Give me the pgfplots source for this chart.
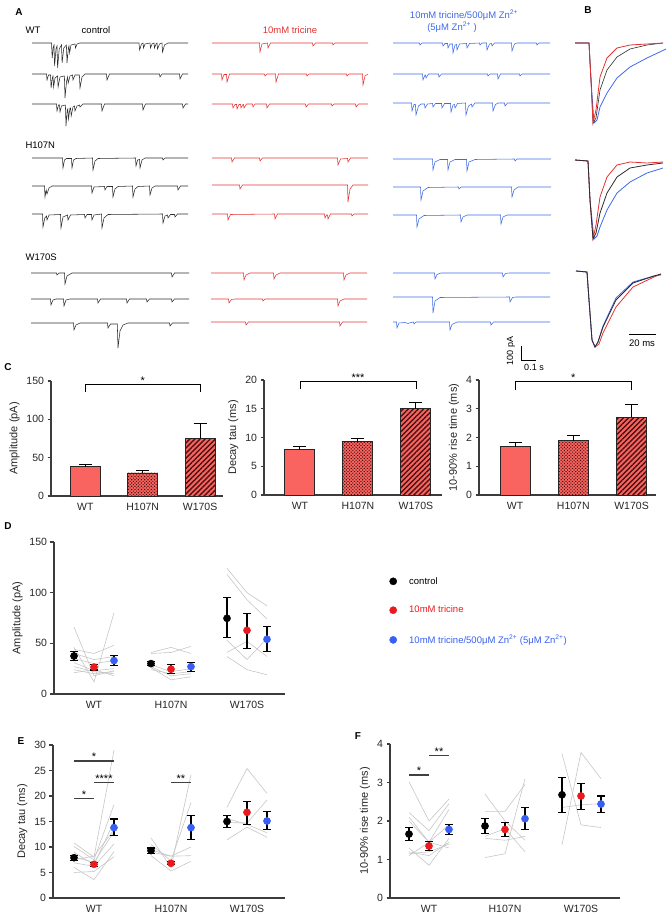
\documentclass[border=0pt]{standalone}
\usepackage{fontspec}
\setmainfont{Liberation Sans}
\usepackage{pgfplots}
\pgfplotsset{compat=1.18}
\usetikzlibrary{patterns,patterns.meta}
\definecolor{barred}{RGB}{250,100,96}
\definecolor{hatch}{RGB}{75,18,18}
\definecolor{tblk}{RGB}{45,45,45}
\definecolor{tred}{RGB}{228,50,50}
\definecolor{tblue}{RGB}{62,105,232}
\definecolor{pred}{RGB}{235,25,30}
\definecolor{pblue}{RGB}{55,95,245}
\definecolor{gline}{RGB}{198,198,198}
\definecolor{axc}{RGB}{60,60,60}
\pgfplotsset{
 prism/.style={scale only axis, axis lines=left, axis line style={-, line width=1.3pt, axc},
   tick style={axc, line width=1.1pt}, tick align=outside, major tick length=3.5pt,
   major x tick style={draw=none}, clip=false,
   tick label style={font=\fontsize{10.5}{12}\selectfont, text=black!85},
   label style={font=\fontsize{11}{13}\selectfont, text=black!85},
   /pgf/number format/assume math mode=true},
 pt/.style={only marks, mark=*, mark size=3.6pt,
   legend image code/.code={\path[draw=none,fill=none,pattern=none] (0pt,-3pt) rectangle (22pt,3pt); \draw[mark repeat=2,mark phase=2,##1] plot coordinates {(0pt,0pt)(8pt,0pt)(22pt,0pt)};},
   error bars/y dir=both, error bars/y explicit,
   error bars/error bar style={black, line width=1.1pt},
   error bars/error mark options={black, line width=1.1pt, mark size=3.8pt, rotate=90}},
 gl/.style={gline, line width=0.6pt, forget plot},
 cbar/.style={ybar, bar width=30pt, bar shift=0pt, fill=barred, draw=black!85, line width=0.9pt,
   error bars/y dir=plus, error bars/y explicit,
   error bars/error bar style={black, line width=1pt},
   error bars/error mark options={black, line width=1pt, mark size=6.5pt, rotate=90}},
 dotsbar/.style={postaction={pattern={Dots[radius=0.8pt,distance=2.3pt,angle=45]}, pattern color=hatch}},
 linesbar/.style={postaction={pattern={Lines[angle=45,distance=3.6pt,line width=1.4pt]}, pattern color=hatch}},
 tr/.style={line width=0.55pt},
}
\begin{document}
\begin{tikzpicture}
\useasboundingbox (0pt,0pt) rectangle (666pt,914pt);
% ================= A and B: traces =================
\begin{axis}[at={(0pt,914pt)}, anchor=north west, scale only axis, width=666pt, height=380pt,
  xmin=0, xmax=666, ymin=0, ymax=380, y dir=reverse, hide axis, clip=false]
\node[font=\bfseries\fontsize{10}{12}\selectfont] at (axis cs:19,12) {A};
\node[font=\bfseries\fontsize{10}{12}\selectfont] at (axis cs:588,10) {B};
\node[font=\fontsize{9.5}{11}\selectfont, anchor=west] at (axis cs:22,30) {WT};
\node[font=\fontsize{9.5}{11}\selectfont] at (axis cs:96,30) {control};
\node[font=\fontsize{9.5}{11}\selectfont, text=tred] at (axis cs:290,30) {10mM tricine};
\node[font=\fontsize{9.5}{11}\selectfont, text=tblue] at (axis cs:464,15) {10mM tricine/500μM Zn\textsuperscript{2+}};
\node[font=\fontsize{9.5}{11}\selectfont, text=tblue] at (axis cs:452,27) {(5μM Zn\textsuperscript{2+} )};
\node[font=\fontsize{9.5}{11}\selectfont, anchor=west] at (axis cs:22,145) {H107N};
\node[font=\fontsize{9.5}{11}\selectfont, anchor=west] at (axis cs:22,257) {W170S};
% --- WT control
\addplot[tr, tblk] table[row sep=\\, y expr=\thisrow{d}+43] {x d\\ 32 0\\ 51.5 0\\ 52.2 15\\ 53.3 4\\ 54 2\\ 54.6 23\\ 56 6\\ 57 3\\ 57.6 25\\ 59.2 6\\ 61.5 2\\ 62.1 20\\ 63.8 5\\ 66.4 2\\ 67 20\\ 68.4 5\\ 69 3\\ 69.6 10\\ 71 2\\ 75 1\\ 75.5 5\\ 77 1\\ 80 0\\ 139 0\\ 139.6 7\\ 141.5 1\\ 143 0\\ 143.5 5\\ 145 1\\ 150 0\\ 150.5 5\\ 152 1\\ 154 0\\ 154.5 5\\ 156 1\\ 157 0\\ 157.5 6\\ 159.5 1\\ 162 0\\ 162.5 9\\ 164.5 2\\ 168 0\\ 188 0\\};
\addplot[tr, tblk] table[row sep=\\, y expr=\thisrow{d}+74] {x d\\ 32 0\\ 46.5 0\\ 47 6\\ 48.5 1\\ 50.5 1\\ 51.1 14\\ 52.3 4\\ 53 2\\ 53.6 13\\ 55 4\\ 57.5 2\\ 58.1 13\\ 60 3\\ 64.4 2\\ 65 24\\ 66.6 7\\ 67.6 3\\ 68.2 9\\ 70 2\\ 72.5 1\\ 73 6\\ 75 1\\ 79.4 1\\ 80 14\\ 82 3\\ 85 0\\ 106.5 0\\ 107 6\\ 109.5 0\\ 159.5 0\\ 160 3\\ 162 0\\ 179.5 0\\ 180 5\\ 182.5 0\\ 188 0\\};
\addplot[tr, tblk] table[row sep=\\, y expr=\thisrow{d}+104] {x d\\ 32 0\\ 56.5 0\\ 57 7\\ 58.5 1\\ 59.5 1\\ 60 8\\ 61.5 2\\ 65.4 1\\ 66 22\\ 67.2 6\\ 67.8 5\\ 68.4 15\\ 70 4\\ 70.6 4\\ 71.2 12\\ 73 3\\ 74.5 2\\ 75 7\\ 77 2\\ 79.5 1\\ 80 3\\ 83 0\\ 101.5 0\\ 102 7\\ 104.5 0\\ 142.5 0\\ 143 6\\ 145.5 0\\ 182.5 0\\ 183 4\\ 185.5 0\\ 188 0\\};
% --- WT tricine
\addplot[tr, tred] table[row sep=\\, y expr=\thisrow{d}+43] {x d\\ 212 0\\ 259.5 0\\ 260 9\\ 262 1\\ 267.5 0\\ 268 5\\ 270.5 0\\ 312.5 0\\ 313 3\\ 315.5 0\\ 332.5 0\\ 333 2\\ 335 0\\ 368 0\\};
\addplot[tr, tred] table[row sep=\\, y expr=\thisrow{d}+74] {x d\\ 212 0\\ 221.5 0\\ 222 6\\ 224 0.5\\ 226.5 0.5\\ 227 8\\ 229.5 0\\ 264.5 0\\ 265 2\\ 267 0\\ 275.5 0\\ 276 8\\ 278.5 0\\ 306.5 0\\ 307 2\\ 309 0\\ 346.5 0\\ 347 2\\ 349 0\\ 362.5 0\\ 363 11\\ 365 2\\ 368 0\\};
\addplot[tr, tred] table[row sep=\\, y expr=\thisrow{d}+104] {x d\\ 212 0\\ 232.5 0\\ 233 4\\ 235 0.5\\ 236.5 0.5\\ 237 5\\ 239 0.5\\ 240.5 0.5\\ 241 4\\ 243 0.5\\ 243.5 0.5\\ 244 4\\ 246.5 0\\ 252.5 0\\ 253 3\\ 255 0\\ 266.5 0\\ 267 4\\ 269.5 0\\ 305.5 0\\ 306 3\\ 308.5 0\\ 331.5 0\\ 332 2\\ 334 0\\ 355.5 0\\ 356 3\\ 358.5 0\\ 368 0\\};
% --- WT zinc
\addplot[tr, tblue] table[row sep=\\, y expr=\thisrow{d}+43] {x d\\ 393 0\\ 419.5 0\\ 420 2\\ 422 0\\ 442.5 0\\ 443 3\\ 445 0.5\\ 447.5 0.5\\ 448 5\\ 450 1\\ 452.5 1\\ 453 10\\ 455 2\\ 456.5 1.5\\ 457 7\\ 459.5 1\\ 466.5 0.5\\ 467 5\\ 469.5 0.5\\ 479.5 0\\ 480 2\\ 482 0\\ 486.5 0\\ 487 7\\ 489.5 1\\ 491.5 0.5\\ 492 3\\ 494.5 0\\ 511.5 0\\ 512 8\\ 514.5 1\\ 517 0\\ 536.5 0\\ 537 2\\ 539 0\\ 550 0\\};
\addplot[tr, tblue] table[row sep=\\, y expr=\thisrow{d}+74] {x d\\ 393 0\\ 422.5 0\\ 423 6\\ 425 1\\ 425.5 1\\ 426 4\\ 428.5 0\\ 438.5 0\\ 439 3\\ 441.5 0\\ 487.5 0\\ 488 2\\ 490 0\\ 497.5 0\\ 498 5\\ 500.5 0\\ 519.5 0\\ 520 2\\ 522 0\\ 550 0\\};
\addplot[tr, tblue] table[row sep=\\, y expr=\thisrow{d}+103] {x d\\ 393 0\\ 411.5 0\\ 412 8\\ 414 1.5\\ 415.4 1.5\\ 416 12\\ 418.5 3\\ 421 1\\ 424.5 1\\ 425 5\\ 427.5 1\\ 432.5 0.5\\ 433 4\\ 435.5 0.5\\ 441.5 0.5\\ 442 5\\ 444.5 0.5\\ 450.5 0.5\\ 451 9\\ 453 2\\ 454.5 1.5\\ 455 5\\ 457.5 0.5\\ 465.5 0\\ 466 12\\ 468.5 3\\ 471.5 1\\ 472 4\\ 475 0\\ 492.5 0\\ 493 8\\ 495.5 1.5\\ 498 0\\ 504.5 0\\ 505 3\\ 507.5 0\\ 550 0\\};
% --- H107N control
\addplot[tr, tblk] table[row sep=\\, y expr=\thisrow{d}+158] {x d\\ 32 0\\ 62.5 0\\ 63 10\\ 64.5 2\\ 66.5 0.5\\ 71.5 0.5\\ 72 10\\ 73.5 2\\ 76 0.5\\ 92.5 0\\ 93 12\\ 95 3\\ 98 0.5\\ 135.5 0\\ 136 8\\ 137.6 2\\ 139.5 1.5\\ 140 10\\ 142 2\\ 145 0\\ 162.5 0\\ 163 2\\ 165 0\\ 188 0\\};
\addplot[tr, tblk] table[row sep=\\, y expr=\thisrow{d}+186] {x d\\ 32 0\\ 44.5 0\\ 45 11\\ 46.2 4\\ 47 8\\ 49 2\\ 52 0\\ 91.5 0\\ 92 7\\ 94 1\\ 104.5 0.5\\ 105 4\\ 107 0.5\\ 112.5 0.5\\ 113 11\\ 115 3\\ 118 0.5\\ 132.5 0\\ 133 11\\ 135 3\\ 138 0.5\\ 149.5 0\\ 150 9\\ 152 2\\ 155 0\\ 177.5 0\\ 178 4\\ 180.5 0\\ 188 0\\};
\addplot[tr, tblk] table[row sep=\\, y expr=\thisrow{d}+214] {x d\\ 32 0\\ 42.5 0\\ 43 13\\ 44.8 4\\ 46.5 2\\ 47 6\\ 49 1\\ 60.5 0.5\\ 61 14\\ 63 3\\ 67.5 1\\ 68 6\\ 70.5 1\\ 84.5 0.5\\ 85 4\\ 87 0.5\\ 91.5 0.5\\ 92 6\\ 94 1\\ 101.5 0\\ 102 14\\ 104 4\\ 108 0.5\\ 162.5 0\\ 163 9\\ 165 2\\ 167.5 1\\ 168 4\\ 170.5 0.5\\ 174.5 0.5\\ 175 3\\ 177.5 0\\ 188 0\\};
% --- H107N tricine
\addplot[tr, tred] table[row sep=\\, y expr=\thisrow{d}+158] {x d\\ 212 0\\ 231.5 0\\ 232 4\\ 234.5 0\\ 259.5 0\\ 260 3\\ 262.5 0\\ 337.5 0\\ 338 7\\ 340.5 1\\ 347.5 0.5\\ 348 4\\ 350.5 0\\ 368 0\\};
\addplot[tr, tred] table[row sep=\\, y expr=\thisrow{d}+185] {x d\\ 212 0\\ 239.5 0\\ 240 4\\ 242.5 0\\ 347.5 0\\ 348 17\\ 350 4\\ 353 0\\ 368 0\\};
\addplot[tr, tred] table[row sep=\\, y expr=\thisrow{d}+214] {x d\\ 212 0\\ 227.5 0\\ 228 6\\ 230.5 0.5\\ 274.5 0\\ 275 5\\ 277.5 0\\ 324.5 0\\ 325 4\\ 326.5 1\\ 327.5 1\\ 328 5\\ 330.5 0\\ 351.5 0\\ 352 2\\ 354 0\\ 368 0\\};
% --- H107N zinc
\addplot[tr, tblue] table[row sep=\\, y expr=\thisrow{d}+159] {x d\\ 393 0\\ 432.5 0\\ 433 11\\ 435 3\\ 440 0.5\\ 447.5 0.5\\ 448 11\\ 450 3\\ 455 0.5\\ 466.5 0.5\\ 467 12\\ 469 3\\ 475 0.5\\ 514.5 0\\ 515 2\\ 517 0\\ 551 0\\};
\addplot[tr, tblue] table[row sep=\\, y expr=\thisrow{d}+187] {x d\\ 393 0\\ 420.5 0\\ 421 13\\ 423 4\\ 428 0.5\\ 458.5 0\\ 459 2\\ 461 0\\ 511.5 0\\ 512 10\\ 514 3\\ 518 0\\ 551 0\\};
\addplot[tr, tblue] table[row sep=\\, y expr=\thisrow{d}+215] {x d\\ 393 0\\ 416.5 0\\ 417 12\\ 419 4\\ 424 0.5\\ 460.5 0\\ 461 7\\ 463 2\\ 467 0\\ 500.5 0\\ 501 9\\ 503 2\\ 507 0\\ 551 0\\};
% --- W170S control
\addplot[tr, tblk] table[row sep=\\, y expr=\thisrow{d}+273] {x d\\ 31 0\\ 56.5 0\\ 57 2\\ 59 0\\ 64.5 0\\ 65 11\\ 67 3\\ 72 0\\ 171.5 0\\ 172 4\\ 174.5 0\\ 189 0\\};
\addplot[tr, tblk] table[row sep=\\, y expr=\thisrow{d}+299] {x d\\ 31 0\\ 50.5 0\\ 51 6\\ 53 1\\ 56 0\\ 63.5 0\\ 64 7\\ 66 1\\ 70 0\\ 97.5 0\\ 98 4\\ 100.5 0\\ 126.5 0\\ 127 4\\ 129.5 0\\ 146.5 0\\ 147 3\\ 149.5 0\\ 171.5 0\\ 172 3\\ 174.5 0\\ 189 0\\};
\addplot[tr, tblk] table[row sep=\\, y expr=\thisrow{d}+323] {x d\\ 31 0\\ 73.5 0\\ 74 7\\ 76 2\\ 80 0\\ 107.5 0\\ 108 5\\ 110.5 1\\ 117.3 1\\ 118 25\\ 120 8\\ 123 2\\ 128 0\\ 169.5 0\\ 170 3\\ 172.5 0\\ 189 0\\};
% --- W170S tricine
\addplot[tr, tred] table[row sep=\\, y expr=\thisrow{d}+273] {x d\\ 211 0\\ 243.5 0\\ 244 7\\ 246 2\\ 250 0\\ 273.5 0\\ 274 6\\ 276 2\\ 280 0\\ 343.5 0\\ 344 7\\ 346 2\\ 350 0\\ 367 0\\};
\addplot[tr, tred] table[row sep=\\, y expr=\thisrow{d}+299] {x d\\ 211 0\\ 228.5 0\\ 229 4\\ 231.5 0.5\\ 235 0\\ 262.5 0\\ 263 2\\ 265 0\\ 337.5 0\\ 338 7\\ 340 2\\ 344 0\\ 367 0\\};
\addplot[tr, tred] table[row sep=\\, y expr=\thisrow{d}+322] {x d\\ 211 0\\ 245.5 0\\ 246 3\\ 248.5 0\\ 339.5 0\\ 340 4\\ 342.5 0\\ 367 0\\};
% --- W170S zinc
\addplot[tr, tblue] table[row sep=\\, y expr=\thisrow{d}+273] {x d\\ 393 0\\ 434.5 0\\ 435 6\\ 437 1.5\\ 441 0\\ 502.5 0\\ 503 4\\ 505.5 0.5\\ 509 0\\ 550 0\\};
\addplot[tr, tblue] table[row sep=\\, y expr=\thisrow{d}+297] {x d\\ 393 0\\ 432.5 0\\ 433 16\\ 435 4\\ 440 0.5\\ 509.5 0\\ 510 5\\ 512.5 0.5\\ 516 0\\ 550 0\\};
\addplot[tr, tblue] table[row sep=\\, y expr=\thisrow{d}+322] {x d\\ 393 0\\ 396.5 0\\ 397 6\\ 399 1\\ 405 0.5\\ 408 1.5\\ 411 0.5\\ 413.5 0\\ 414 2\\ 416 0\\ 449.5 0\\ 450 8\\ 452 2.5\\ 457 0\\ 490.5 0\\ 491 3\\ 493.5 0\\ 550 0\\};
% --- B averaged traces
\addplot[tblue, line width=0.8pt] coordinates {(575,43)(589,43)(591,80)(594,123)(597,120)(600,107)(607,93)(617,78)(630,67)(647,58)(666,49)};
\addplot[tblk, line width=0.6pt] coordinates {(575,43)(589,43)(591,80)(593,123)(596,118)(600,90)(607,70)(617,57)(630,49)(647,45)(663,43)};
\addplot[tred, line width=0.8pt] coordinates {(575,43)(589,43)(591,80)(593,123)(596,110)(600,77)(607,58)(617,48)(630,45)(647,44)(663,43)};
\addplot[tblue, line width=0.8pt] coordinates {(575,160)(588,161)(590,200)(594,239)(597,236)(600,227)(607,210)(617,193)(630,182)(647,173)(663,168)};
\addplot[tred, line width=0.8pt] coordinates {(575,160)(588,161)(590,200)(593,239)(596,225)(600,197)(607,177)(617,165)(630,162)(647,163)(663,162)};
\addplot[tblk, line width=0.8pt] coordinates {(575,160)(588,161)(590,200)(593,239)(596,233)(600,213)(607,193)(617,177)(630,168)(647,165)(663,163)};
\addplot[tred, line width=0.8pt] coordinates {(576,271)(587,272)(589,300)(592,340)(595,347)(599,344)(603,333)(616,307)(633,287)(654,277)(661,274)};
\addplot[tblue, line width=0.8pt] coordinates {(576,271)(587,272)(589,300)(592,340)(595,347)(598,342)(603,326)(616,298)(633,282)(654,276)(661,275)};
\addplot[tblk, line width=0.8pt] coordinates {(576,271)(587,272)(589,300)(592,340)(595,347)(598,342)(603,327)(616,300)(633,283)(654,276)(661,274)};
% scale bars
\draw[line width=1pt] (axis cs:629,334) -- (axis cs:656,334);
\node[font=\fontsize{9.5}{11}\selectfont] at (axis cs:642,343) {20 ms};
\draw[line width=1pt] (axis cs:521,346) -- (axis cs:521,360) -- (axis cs:536,360);
\node[font=\fontsize{9}{11}\selectfont, rotate=90] at (axis cs:511,351) {100 pA};
\node[font=\fontsize{9}{11}\selectfont] at (axis cs:534,367) {0.1 s};
\node[font=\bfseries\fontsize{10}{12}\selectfont] at (axis cs:8,367) {C};
\end{axis}
% ================= C =================
\begin{axis}[prism, at={(51pt,418pt)}, anchor=south west, width=172pt, height=115pt,
  xmin=-0.6, xmax=2.4, ymin=0, ymax=150, ytick={0,50,100,150},
  xtick={0,1,2}, xticklabels={WT,H107N,W170S}, ylabel={Amplitude (pA)}]
\addplot[cbar] coordinates {(0,38) +- (0,3.5)};
\addplot[cbar, dotsbar] coordinates {(1,30) +- (0,2.8)};
\addplot[cbar, linesbar] coordinates {(2,75) +- (0,20)};
\draw[line width=0.8pt] (axis cs:0,136) -- (axis cs:0,146) -- (axis cs:2,146) -- (axis cs:2,136);
\node[anchor=base, font=\fontsize{11}{12}\selectfont] at (axis cs:1,146) {*};
\end{axis}
\begin{axis}[prism, at={(264pt,419pt)}, anchor=south west, width=178pt, height=115pt,
  xmin=-0.62, xmax=2.45, ymin=0, ymax=20, ytick={0,5,10,15,20},
  xtick={0,1,2}, xticklabels={WT,H107N,W170S}, ylabel={Decay tau (ms)}]
\addplot[cbar] coordinates {(0,7.9) +- (0,0.55)};
\addplot[cbar, dotsbar] coordinates {(1,9.3) +- (0,0.6)};
\addplot[cbar, linesbar] coordinates {(2,15.0) +- (0,1.1)};
\draw[line width=0.8pt] (axis cs:0,18.4) -- (axis cs:0,19.7) -- (axis cs:2,19.7) -- (axis cs:2,18.4);
\node[anchor=base, font=\fontsize{11}{12}\selectfont] at (axis cs:1,19.7) {***};
\end{axis}
\begin{axis}[prism, at={(479pt,419pt)}, anchor=south west, width=177pt, height=115pt,
  xmin=-0.62, xmax=2.42, ymin=0, ymax=4, ytick={0,1,2,3,4},
  xtick={0,1,2}, xticklabels={WT,H107N,W170S}, ylabel={10-90\% rise time (ms)}]
\addplot[cbar] coordinates {(0,1.68) +- (0,0.16)};
\addplot[cbar, dotsbar] coordinates {(1,1.88) +- (0,0.2)};
\addplot[cbar, linesbar] coordinates {(2,2.7) +- (0,0.45)};
\draw[line width=0.8pt] (axis cs:0,3.66) -- (axis cs:0,3.94) -- (axis cs:2,3.94) -- (axis cs:2,3.66);
\node[anchor=base, font=\fontsize{11}{12}\selectfont] at (axis cs:1,3.94) {*};
\end{axis}
% ================= D =================
\begin{axis}[prism, at={(54pt,220pt)}, anchor=south west, width=231pt, height=152pt,
  xmin=0, xmax=231, ymin=0, ymax=150, ytick={0,50,100,150},
  xtick={40,117,193}, xticklabels={WT,H107N,W170S}, ylabel={Amplitude (pA)},
  legend style={at={(axis cs:331,117.5)}, anchor=north west, draw=none, fill=none,
    font=\fontsize{9.5}{11}\selectfont, row sep=16.5pt, inner sep=0pt},
  legend cell align=left]
\addplot[gl] coordinates {(20,66)(40,18)(60,23)};
\addplot[gl] coordinates {(20,46)(40,12)(60,80)};
\addplot[gl] coordinates {(20,44)(40,40)(60,48)};
\addplot[gl] coordinates {(20,40)(40,34)(60,37)};
\addplot[gl] coordinates {(20,35)(40,30)(60,33)};
\addplot[gl] coordinates {(20,31)(40,23)(60,25)};
\addplot[gl] coordinates {(20,27)(40,22)(60,20)};
\addplot[gl] coordinates {(20,24)(40,20)(60,22)};
\addplot[gl] coordinates {(20,21)(40,24)(60,18)};
\addplot[gl] coordinates {(97,40)(117,41)(137,47)};
\addplot[gl] coordinates {(97,41)(117,46)(137,40)};
\addplot[gl] coordinates {(97,29)(117,22)(137,25)};
\addplot[gl] coordinates {(97,27)(117,18)(137,20)};
\addplot[gl] coordinates {(97,26)(117,14)(137,17)};
\addplot[gl] coordinates {(97,24)(117,20)(137,22)};
\addplot[gl] coordinates {(173,124)(193,100)(213,87)};
\addplot[gl] coordinates {(173,118)(193,93)(213,74)};
\addplot[gl] coordinates {(173,53)(193,34)(213,55)};
\addplot[gl] coordinates {(173,41)(193,52)(213,37)};
\addplot[gl] coordinates {(173,37)(193,24)(213,19)};
\addplot[pt, black] coordinates {(20,37.5) += (0,4.3) -= (0,4.5) (97,30) += (0,2.3) -= (0,2.3) (173,74.7) += (0,20.3) -= (0,19)};
\addplot[pt, pred] coordinates {(40,26.5) += (0,2.6) -= (0,2.8) (117,24.5) += (0,4.5) -= (0,4.5) (193,62.8) += (0,16.8) -= (0,17.7)};
\addplot[pt, pblue] coordinates {(60,33) += (0,5) -= (0,5) (137,27) += (0,4.5) -= (0,4.5) (213,54) += (0,12.4) -= (0,12.2)};
\legend{control, \textcolor{pred}{10mM tricine}, \textcolor{pblue}{10mM tricine/500μM Zn\textsuperscript{2+} (5μM Zn\textsuperscript{2+})}}
\node[font=\bfseries\fontsize{10}{12}\selectfont] at (axis cs:-46,166) {D};
\end{axis}
% ================= E =================
\begin{axis}[prism, at={(53pt,16pt)}, anchor=south west, width=232pt, height=153pt,
  xmin=0, xmax=232, ymin=0, ymax=30, ytick={0,5,10,15,20,25,30},
  xtick={41,118,194}, xticklabels={WT,H107N,W170S}, ylabel={Decay tau (ms)}]
\addplot[gl] coordinates {(21,10.8)(41,8.0)(61,29.0)};
\addplot[gl] coordinates {(21,10.1)(41,7.5)(61,18.3)};
\addplot[gl] coordinates {(21,9.0)(41,6.5)(61,15.0)};
\addplot[gl] coordinates {(21,7.5)(41,8.2)(61,13.4)};
\addplot[gl] coordinates {(21,6.9)(41,6.2)(61,10.6)};
\addplot[gl] coordinates {(21,6.0)(41,3.6)(61,9.1)};
\addplot[gl] coordinates {(21,5.0)(41,5.2)(61,8.1)};
\addplot[gl] coordinates {(21,8.0)(41,7.0)(61,13.0)};
\addplot[gl] coordinates {(98,11.8)(118,6.0)(138,24.2)};
\addplot[gl] coordinates {(98,10.5)(118,7.3)(138,18.7)};
\addplot[gl] coordinates {(98,9.0)(118,8.2)(138,10.0)};
\addplot[gl] coordinates {(98,8.3)(118,5.3)(138,7.2)};
\addplot[gl] coordinates {(98,9.5)(118,8.2)(138,8.3)};
\addplot[gl] coordinates {(174,17.8)(194,25.4)(214,20.5)};
\addplot[gl] coordinates {(174,15.6)(194,14.4)(214,12.8)};
\addplot[gl] coordinates {(174,11.4)(194,13.9)(214,11.9)};
\addplot[gl] coordinates {(174,14.8)(194,14.7)(214,19.2)};
\addplot[pt, black] coordinates {(21,7.9) += (0,0.5) -= (0,0.5) (98,9.3) += (0,0.5) -= (0,0.5) (174,15.0) += (0,1.1) -= (0,1.1)};
\addplot[pt, pred] coordinates {(41,6.6) += (0,0.4) -= (0,0.4) (118,6.8) += (0,0.3) -= (0,0.3) (194,16.8) += (0,2.2) -= (0,2.3)};
\addplot[pt, pblue] coordinates {(61,13.8) += (0,1.7) -= (0,1.6) (138,13.8) += (0,2.3) -= (0,2.3) (214,15.1) += (0,1.9) -= (0,1.7)};
\draw[line width=1.4pt, black!75] (axis cs:21,26.9) -- (axis cs:61,26.9);
\node[anchor=base, font=\fontsize{11}{12}\selectfont] at (axis cs:41,26.9) {*};
\draw[line width=1.4pt, black!75] (axis cs:21,19.5) -- (axis cs:41,19.5);
\node[anchor=base, font=\fontsize{11}{12}\selectfont] at (axis cs:31,19.5) {*};
\draw[line width=1.4pt, black!75] (axis cs:41,22.6) -- (axis cs:61,22.6);
\node[anchor=base, font=\fontsize{11}{12}\selectfont] at (axis cs:51,22.6) {****};
\draw[line width=1.4pt, black!75] (axis cs:118,22.6) -- (axis cs:138,22.6);
\node[anchor=base, font=\fontsize{11}{12}\selectfont] at (axis cs:128,22.6) {**};
\node[font=\bfseries\fontsize{10}{12}\selectfont] at (axis cs:-32,30.8) {E};
\end{axis}
% ================= F =================
\begin{axis}[prism, at={(390pt,16pt)}, anchor=south west, width=230pt, height=154pt,
  xmin=0, xmax=230, ymin=0, ymax=4, ytick={0,1,2,3,4},
  xtick={39,115,191}, xticklabels={WT,H107N,W170S}, ylabel={10-90\% rise time (ms)}]
\addplot[gl] coordinates {(19,3.02)(39,2.0)(59,2.57)};
\addplot[gl] coordinates {(19,2.22)(39,1.75)(59,2.45)};
\addplot[gl] coordinates {(19,2.1)(39,1.45)(59,2.3)};
\addplot[gl] coordinates {(19,1.3)(39,0.85)(59,1.55)};
\addplot[gl] coordinates {(19,1.2)(39,1.1)(59,1.45)};
\addplot[gl] coordinates {(19,1.15)(39,1.2)(59,1.4)};
\addplot[gl] coordinates {(19,1.1)(39,1.45)(59,1.3)};
\addplot[gl] coordinates {(19,2.0)(39,1.45)(59,1.9)};
\addplot[gl] coordinates {(95,2.7)(115,2.0)(135,1.5)};
\addplot[gl] coordinates {(95,2.25)(115,2.25)(135,2.95)};
\addplot[gl] coordinates {(95,1.6)(115,1.8)(135,1.2)};
\addplot[gl] coordinates {(95,1.55)(115,1.5)(135,1.6)};
\addplot[gl] coordinates {(95,1.05)(115,1.15)(135,3.1)};
\addplot[gl] coordinates {(172,3.75)(191,1.9)(211,1.83)};
\addplot[gl] coordinates {(172,1.38)(191,3.78)(211,3.1)};
\addplot[gl] coordinates {(172,2.35)(191,2.42)(211,2.45)};
\addplot[pt, black] coordinates {(19,1.66) += (0,0.18) -= (0,0.17) (95,1.87) += (0,0.2) -= (0,0.19) (172,2.68) += (0,0.46) -= (0,0.46)};
\addplot[pt, pred] coordinates {(39,1.35) += (0,0.11) -= (0,0.11) (115,1.78) += (0,0.18) -= (0,0.19) (191,2.65) += (0,0.33) -= (0,0.34)};
\addplot[pt, pblue] coordinates {(59,1.78) += (0,0.13) -= (0,0.13) (135,2.06) += (0,0.3) -= (0,0.29) (211,2.44) += (0,0.21) -= (0,0.21)};
\draw[line width=1.4pt, black!75] (axis cs:19,3.2) -- (axis cs:39,3.2);
\node[anchor=base, font=\fontsize{11}{12}\selectfont] at (axis cs:29,3.2) {*};
\draw[line width=1.4pt, black!75] (axis cs:39,3.7) -- (axis cs:59,3.7);
\node[anchor=base, font=\fontsize{11}{12}\selectfont] at (axis cs:49,3.7) {**};
\node[font=\bfseries\fontsize{10}{12}\selectfont] at (axis cs:-32,4.2) {F};
\end{axis}
\end{tikzpicture}
\end{document}
